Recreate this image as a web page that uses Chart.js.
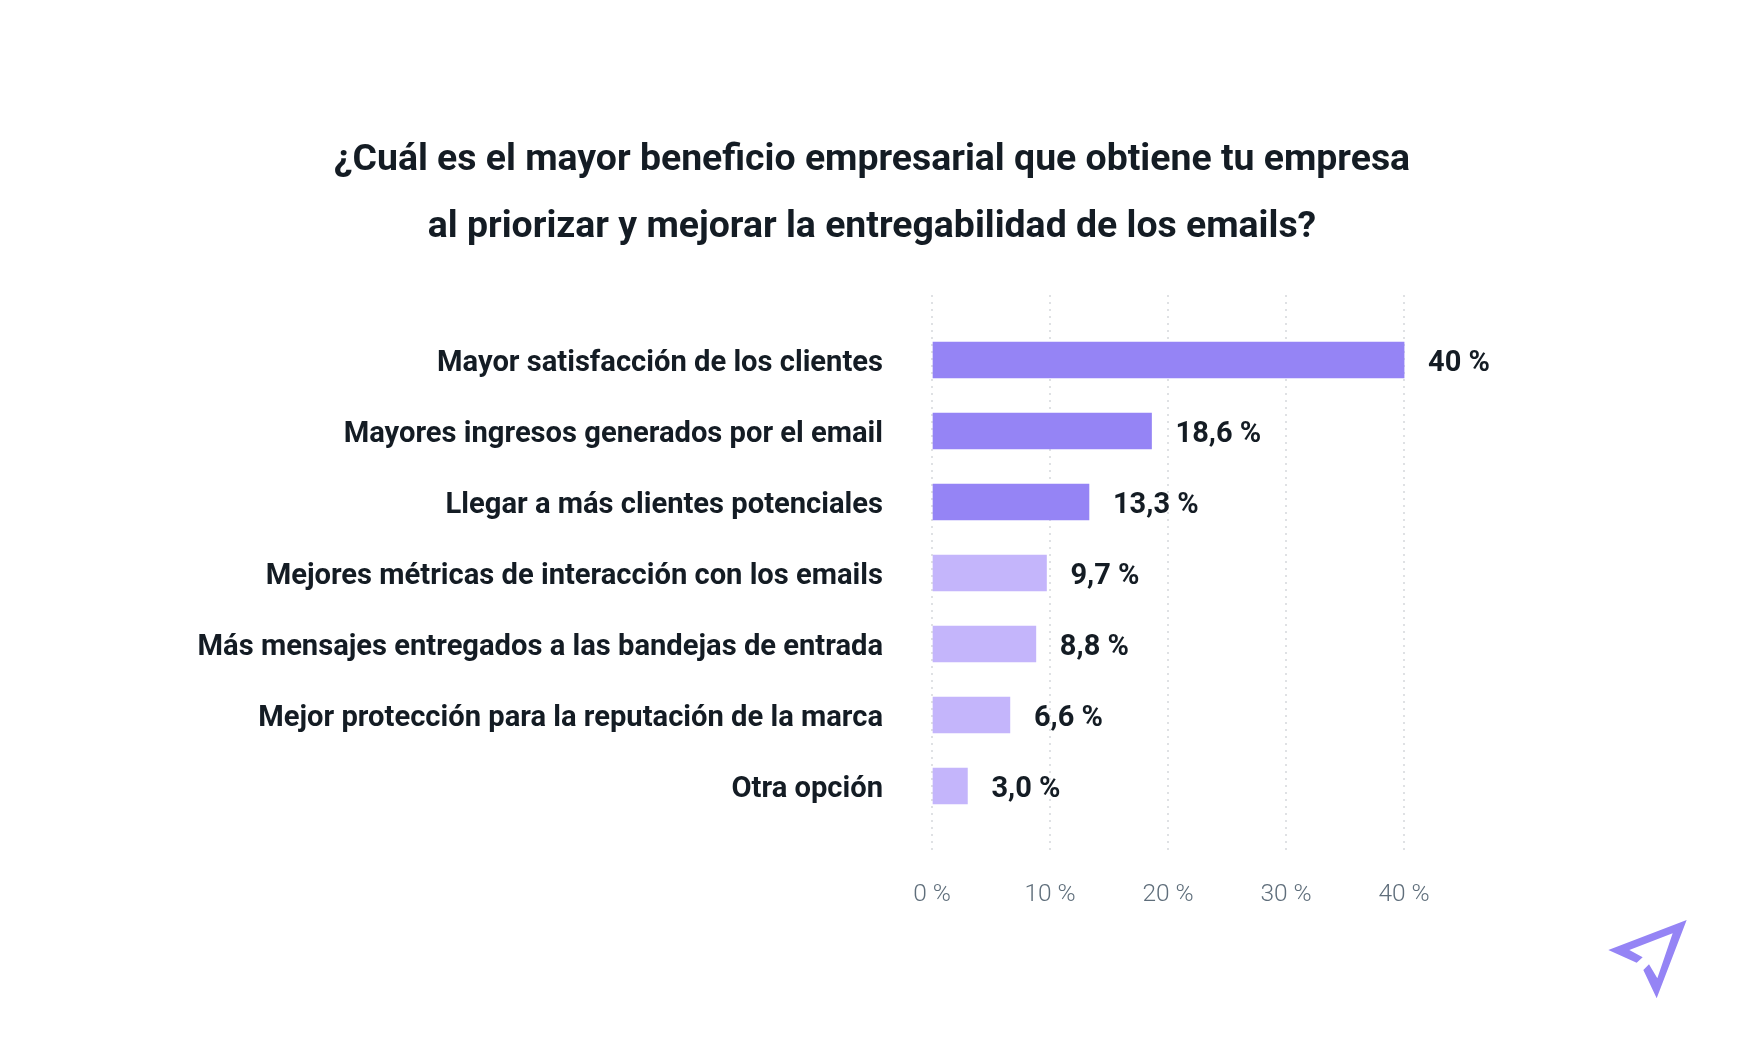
<!DOCTYPE html>
<html lang="es">
<head>
<meta charset="utf-8">
<title>Beneficio empresarial de la entregabilidad</title>
<script src="https://cdn.jsdelivr.net/npm/chart.js@4/dist/chart.umd.min.js"></script>
<style>
  html, body { margin: 0; padding: 0; background: #fff; }
  #wrap { position: relative; width: 1744px; height: 1051px; }
  #logo { position: absolute; left: 1580px; top: 900px; width: 164px; height: 151px; }
</style>
</head>
<body>
<div id="wrap">
  <canvas id="chart" width="1744" height="1051"></canvas>
  <svg id="logo" viewBox="0 0 492 453">
    <polygon fill="#9584f5" points="320,60 230,295 190,210 207,193 232,235 278,100 148,150 188,172 170,188 85,150"/>
  </svg>
</div>
<script>
// Chart data
const titleLines = [
  '¿Cuál es el mayor beneficio empresarial que obtiene tu empresa',
  'al priorizar y mejorar la entregabilidad de los emails?'
];
const categories = [
  'Mayor satisfacción de los clientes',
  'Mayores ingresos generados por el email',
  'Llegar a más clientes potenciales',
  'Mejores métricas de interacción con los emails',
  'Más mensajes entregados a las bandejas de entrada',
  'Mejor protección para la reputación de la marca',
  'Otra opción'
];
const values = [40, 18.6, 13.3, 9.7, 8.8, 6.6, 3.0];
const valueLabels = ['40 %', '18,6 %', '13,3 %', '9,7 %', '8,8 %', '6,6 %', '3,0 %'];
const barColors = ['#9584f5', '#9584f5', '#9584f5', '#c4b5fb', '#c4b5fb', '#c4b5fb', '#c4b5fb'];
const xTicks = [0, 10, 20, 30, 40];

const inkColor = '#141c24';

// Value text at the end of each bar
const valueLabelPlugin = {
  id: 'valueLabels',
  afterDatasetsDraw(chart) {
    const ctx = chart.ctx;
    ctx.save();
    ctx.font = '700 29px Roboto';
    ctx.fillStyle = inkColor;
    ctx.textAlign = 'left';
    ctx.textBaseline = 'middle';
    chart.getDatasetMeta(0).data.forEach((bar, i) => {
      ctx.fillText(valueLabels[i], bar.x + 24, bar.y + 4);
    });
    ctx.restore();
  }
};

new Chart(document.getElementById('chart'), {
  type: 'bar',
  data: {
    datasets: [{
      data: values.map((v, i) => ({ x: v, y: i })),
      backgroundColor: barColors,
      barThickness: 36,
      borderSkipped: false
    }]
  },
  options: {
    indexAxis: 'y',
    responsive: false,
    animation: false,
    plugins: {
      legend: { display: false },
      tooltip: { enabled: false },
      title: {
        display: true,
        text: titleLines,
        color: inkColor,
        font: { family: 'Roboto', size: 37.4, weight: '700', lineHeight: 67 / 37.4 },
        padding: { top: 127, bottom: 34 }
      }
    },
    scales: {
      x: {
        type: 'linear',
        min: 0,
        // axis runs on past the last tick, to the right edge of the page
        max: 68.8,
        afterFit: (scale) => { scale.height = 200; },
        afterBuildTicks: (scale) => { scale.ticks = xTicks.map((v) => ({ value: v })); },
        border: { display: false, dash: [2, 5] },
        grid: { color: '#dfe1e4', lineWidth: 2, drawTicks: false },
        ticks: {
          color: '#5f6e7b',
          font: { family: 'Roboto', size: 24.5, weight: '300' },
          padding: 29,
          maxRotation: 0,
          callback: (v) => v + ' %'
        }
      },
      y: {
        type: 'linear',
        offset: false,
        reverse: true,
        min: -0.915,
        max: 6.915,
        afterFit: (scale) => { scale.width = 932; },
        afterBuildTicks: (scale) => { scale.ticks = categories.map((c, i) => ({ value: i })); },
        border: { display: false },
        grid: { display: false, drawTicks: false },
        ticks: {
          color: inkColor,
          font: { family: 'Roboto', size: 29.15, weight: '700' },
          padding: 49,
          labelOffset: 4,
          callback: (v) => categories[v]
        }
      }
    }
  },
  plugins: [valueLabelPlugin]
});
</script>
</body>
</html>
